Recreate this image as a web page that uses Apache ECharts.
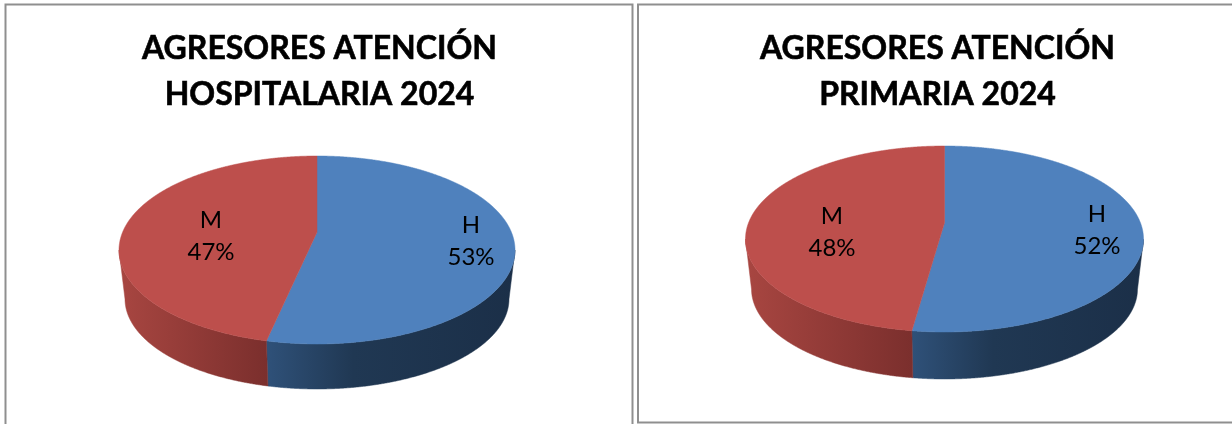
<!DOCTYPE html>
<html>
<head>
<meta charset="utf-8">
<title>Agresores 2024</title>
<script src="https://cdn.jsdelivr.net/npm/echarts@6/dist/echarts.min.js"></script>
<style>
  html, body { margin: 0; padding: 0; background: #fff; overflow: hidden; }
  #chart { width: 1232px; height: 424px; }
</style>
</head>
<body>
<div id="chart"></div>
<script>
const categories = ['H', 'M'];
// the labels round them
const hospitalValues = [53.4, 46.6];
const primaryValues = [52.2, 47.8];
const hospitalTitle = 'AGRESORES ATENCIÓN\nHOSPITALARIA 2024';
const primaryTitle = 'AGRESORES ATENCIÓN\nPRIMARIA 2024';

const topColors = ['#4f81bd', '#bd4f4c'];
const sideColors = [
  [[0, '#2f5179'], [0.35, '#203853'], [1, '#1b2f48']],
  [[0, '#a84641'], [1, '#7b2f2d']]
];

// a moves the centre of the disc up the ellipse, like the perspective of a 3D pie
function project(deg, a) {
  const rad = deg * Math.PI / 180;
  const u = Math.sin(rad);
  const v = -Math.cos(rad);
  const d = 1 + a * v;
  return [u * Math.sqrt(1 - a * a) / d, (v + a) / d];
}

function pieSeries(values, geo) {
  const total = values.reduce((s, v) => s + v, 0);
  return {
    type: 'custom',
    coordinateSystem: 'none',
    silent: true,
    data: values.map((v, i) => ({ name: categories[i], value: v })),
    renderItem: function (params, api) {
      const i = params.dataIndex;
      const before = values.slice(0, i).reduce((s, v) => s + v, 0);
      const start = before / total * 360;
      const end = start + api.value(0) / total * 360;

      const edge = [];
      for (let deg = start; deg < end; deg += 0.25) edge.push(project(deg, geo.a));
      edge.push(project(end, geo.a));

      const top = edge.map(p => [geo.cx + p[0] * geo.rx, geo.cy + p[1] * geo.ry]);
      top.unshift([geo.cx, geo.cy + geo.a * geo.ry]);

      const front = edge.filter(p => p[1] >= 0);
      const upper = front.map(p => [geo.cx + p[0] * geo.rx, geo.cy + p[1] * geo.ry]);
      const lower = front.map(p => [geo.cx + p[0] * geo.rxb, geo.cyb + p[1] * geo.ryb]).reverse();
      const xs = upper.map(p => p[0]);
      const fill = new echarts.graphic.LinearGradient(
        Math.min(...xs), 0, Math.max(...xs), 0,
        sideColors[i].map(s => ({ offset: s[0], color: s[1] })),
        true
      );
      const pct = Math.round(api.value(0) / total * 100) + '%';

      return {
        type: 'group',
        children: [
          {
            type: 'polygon',
            shape: { points: upper.concat(lower) },
            style: { fill: fill, stroke: fill, lineWidth: 0.5 }
          },
          {
            type: 'polygon',
            shape: { points: top },
            style: { fill: topColors[i], stroke: topColors[i], lineWidth: 0.5 }
          },
          {
            type: 'text',
            x: geo.labels[i][0],
            y: geo.labels[i][1],
            style: {
              text: categories[i] + '\n' + pct,
              fill: '#000',
              font: '24px Lato',
              lineHeight: 32,
              align: 'center',
              verticalAlign: 'middle'
            }
          }
        ]
      };
    }
  };
}

const titleStyle = {
  color: '#000',
  fontFamily: 'Lato',
  fontWeight: 'bold',
  fontSize: 32,
  lineHeight: 46,
  textBorderColor: '#000',
  textBorderWidth: 0.6
};

const chart = echarts.init(document.getElementById('chart'), null, { renderer: 'canvas' });
chart.setOption({
  animation: false,
  backgroundColor: '#fff',
  title: [
    { text: hospitalTitle, left: 319.5, top: 26, padding: 0, textAlign: 'center', textStyle: titleStyle },
    { text: primaryTitle, left: 937.5, top: 26, padding: 0, textAlign: 'center', textStyle: titleStyle }
  ],
  graphic: [
    {
      type: 'rect',
      silent: true,
      shape: { x: 5.5, y: 4.5, width: 627, height: 440 },
      style: { fill: 'none', stroke: '#8f8f8f', lineWidth: 2 }
    },
    {
      type: 'rect',
      silent: true,
      shape: { x: 638, y: 4.5, width: 620, height: 418 },
      style: { fill: 'none', stroke: '#8f8f8f', lineWidth: 2 }
    }
  ],
  series: [
    pieSeries(hospitalValues, {
      cx: 317, cy: 250, rx: 198, ry: 94, a: -0.19,
      cyb: 299, rxb: 192, ryb: 90,
      labels: [[471, 241], [211, 236]]
    }),
    pieSeries(primaryValues, {
      cx: 944.5, cy: 239, rx: 199, ry: 93, a: -0.175,
      cyb: 289, rxb: 193, ryb: 90,
      labels: [[1097, 230], [832, 232]]
    })
  ]
});
</script>
</body>
</html>
